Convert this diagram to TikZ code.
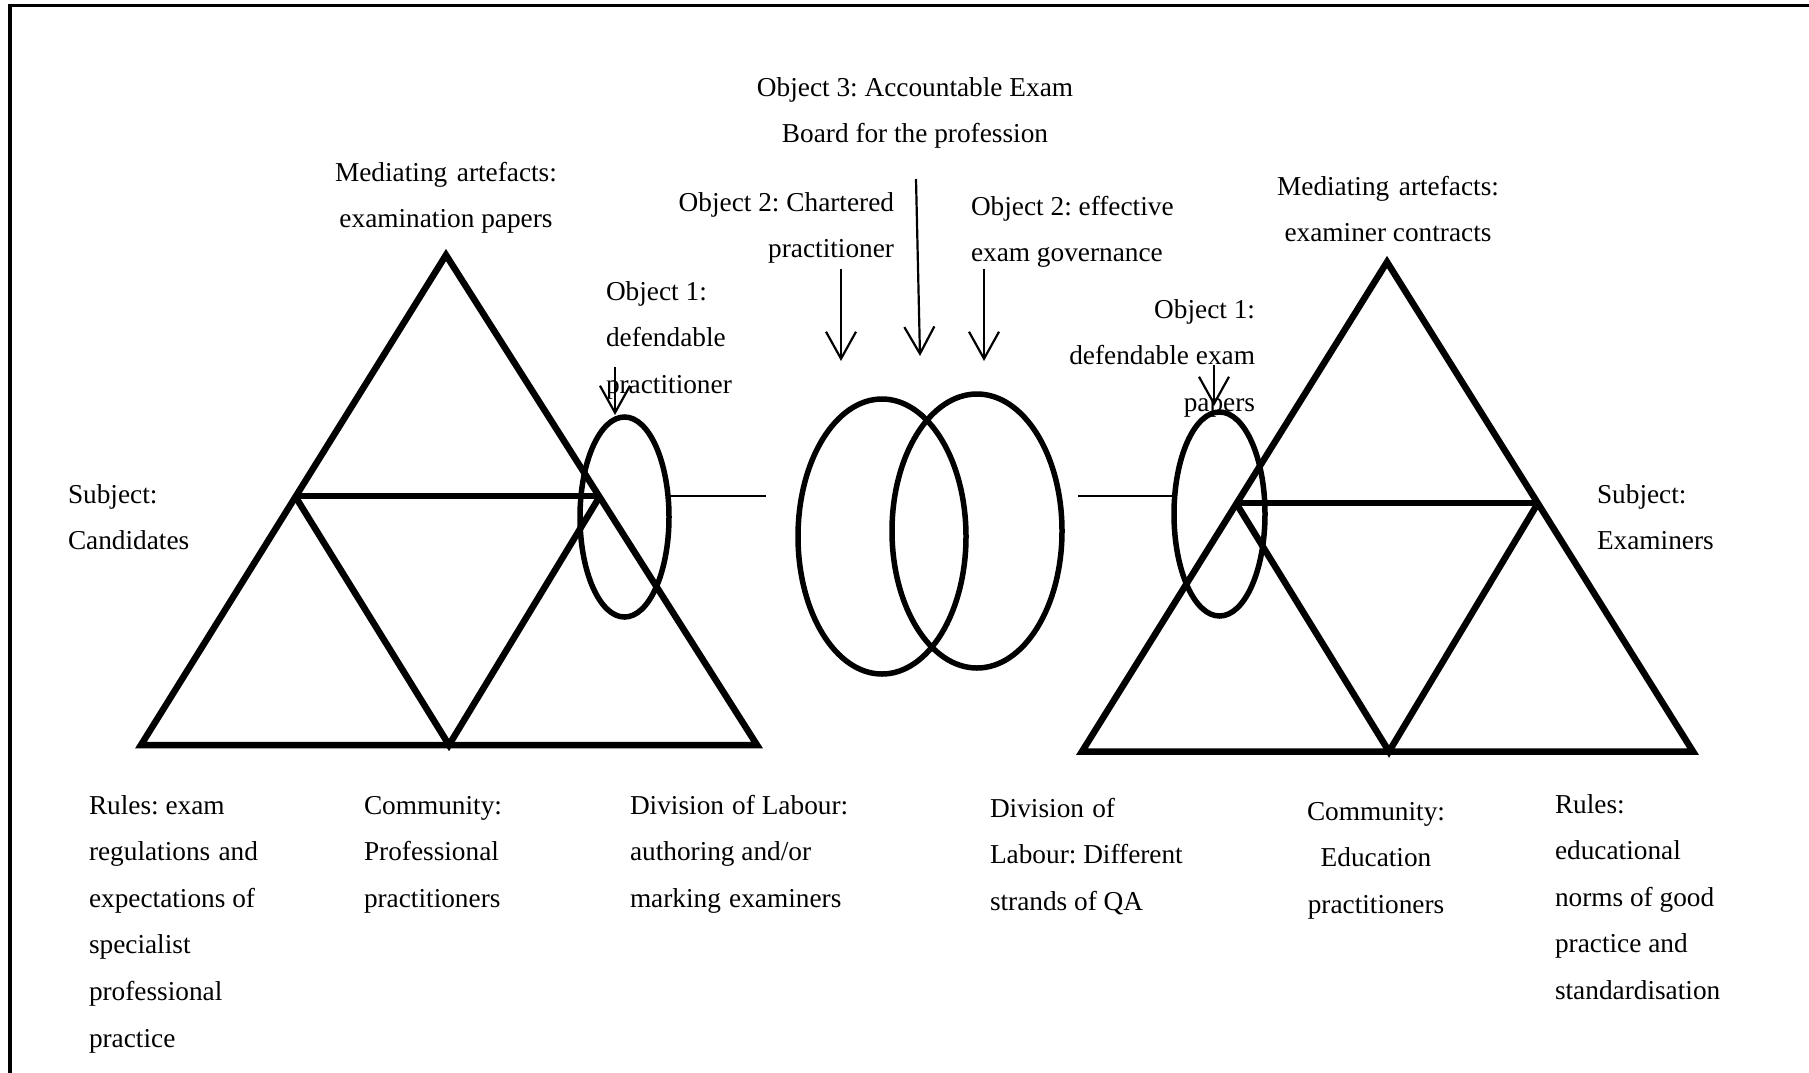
\documentclass[tikz,border=0pt]{standalone}
\usepackage{fontspec}
\setmainfont{Liberation Serif}
\usetikzlibrary{shapes.geometric,arrows.meta}
\begin{document}
\frenchspacing
\begin{tikzpicture}[x=1pt,y=-1pt,
  tri/.style={line width=6.5pt, line join=miter},
  ring/.style={draw, ellipse, line width=5.5pt, inner sep=0pt, outer sep=0pt},
  link/.style={line width=2.5pt},
  arr/.style={line width=2.2pt, -{Straight Barb[length=27pt,width=30pt]}},
  lbl/.style={font=\fontsize{27.3pt}{46.6pt}\selectfont, inner sep=0pt, outer sep=0pt},
]
\useasboundingbox (0,0) rectangle (1809,1072);
\draw[line width=3.5pt] (1840,5.5) -- (10,5.5) -- (10,1100);

% left activity triangle
\coordinate (LA) at (446,255);
\coordinate (LBL) at (141,745);
\coordinate (LBR) at (757,745);
\coordinate (LBM) at (449,745);
\coordinate (LML) at (295,496);
\coordinate (LMR) at (600,496);
\draw[tri] (LA) -- (LBL) -- (LBR) -- cycle;
\draw[tri] (LML) -- (LMR);
\draw[tri] (LML) -- (LBM) -- (LMR);

% right activity triangle
\coordinate (RA) at (1387,262);
\coordinate (RBL) at (1082,751.5);
\coordinate (RBR) at (1693,751.5);
\coordinate (RBM) at (1389,751.5);
\coordinate (RML) at (1236,503);
\coordinate (RMR) at (1538,503);
\draw[tri] (RA) -- (RBL) -- (RBR) -- cycle;
\draw[tri] (RML) -- (RMR);
\draw[tri] (RML) -- (RBM) -- (RMR);

% object ellipses
\node[ring, minimum width=89pt, minimum height=200pt] (o1L) at (624.5,517) {};
\node[ring, minimum width=91pt, minimum height=204pt] (o1R) at (1219.5,514) {};
\node[ring, minimum width=168pt, minimum height=275pt] (o2L) at (882,536.5) {};
\node[ring, minimum width=170pt, minimum height=274pt] (o2R) at (977,531) {};

% links between objects
\coordinate (kLs) at (670,496);
\coordinate (kLe) at (766,496);
\coordinate (kRs) at (1078,496);
\coordinate (kRe) at (1173,496);
\draw[link] (kLs) -- (kLe);
\draw[link] (kRs) -- (kRe);

% labels (base anchor = baseline of the last line)
\node[lbl, align=center, anchor=base] (obj3) at (915,142.6) {Object 3: Accountable Exam\\Board for the profession};
\node[lbl, align=center, anchor=base] (medL) at (446,227.6) {Mediating\hspace{0.35em}artefacts:\\examination papers};
\node[lbl, align=right, anchor=base east] (obj2c) at (894,257.6) {Object 2: Chartered\\practitioner};
\node[lbl, align=left, anchor=base west] (obj2e) at (971,261.6) {Object 2: effective\\exam governance};
\node[lbl, align=left, anchor=base west] (obj1L) at (606,393.2) {Object 1:\\defendable\\practitioner};
\node[lbl, align=right, anchor=base east] (obj1R) at (1255,411.2) {Object 1:\\defendable exam\\papers};
\node[lbl, align=center, anchor=base] (medR) at (1388,241.6) {Mediating\hspace{0.35em}artefacts:\\examiner contracts};
\node[lbl, align=left, anchor=base west] (subL) at (68,549.6) {Subject:\\Candidates};
\node[lbl, align=left, anchor=base west] (subR) at (1597,549.6) {Subject:\\Examiners};
\node[lbl, align=left, anchor=base west] (rulL) at (89,1047) {Rules: exam\\regulations\hspace{0.3em}and\\expectations of\\specialist\\professional\\practice};
\node[lbl, align=left, anchor=base west] (comL) at (364,907.2) {Community:\\Professional\\practitioners};
\node[lbl, align=left, anchor=base west] (divL) at (630,907.2) {Division\hspace{0.3em}of Labour:\\authoring and/or\\marking\hspace{0.3em}examiners};
\node[lbl, align=left, anchor=base west] (divR) at (990,910.2) {Division\hspace{0.3em}of\\Labour: Different\\strands of QA};
\node[lbl, align=center, anchor=base] (comR) at (1376,913.2) {Community:\\Education\\practitioners};
\node[lbl, align=left, anchor=base west] (rulR) at (1555,999.4) {Rules:\\educational\\norms of good\\practice and\\standardisation};

% arrows
\coordinate (a1Ls) at (615,367);
\coordinate (a1Le) at (615,415);
\coordinate (a2Cs) at (841,269);
\coordinate (a2Ce) at (841,361);
\coordinate (a3s) at (916,179);
\coordinate (a3e) at (920,356);
\coordinate (a2Es) at (984,269);
\coordinate (a2Ee) at (984,361);
\coordinate (a1Rs) at (1214,365);
\coordinate (a1Re) at (1214,406);
\draw[arr] (a1Ls) -- (a1Le);
\draw[arr] (a2Cs) -- (a2Ce);
\draw[arr] (a3s) -- (a3e);
\draw[arr] (a2Es) -- (a2Ee);
\draw[arr] (a1Rs) -- (a1Re);
\end{tikzpicture}
\end{document}
